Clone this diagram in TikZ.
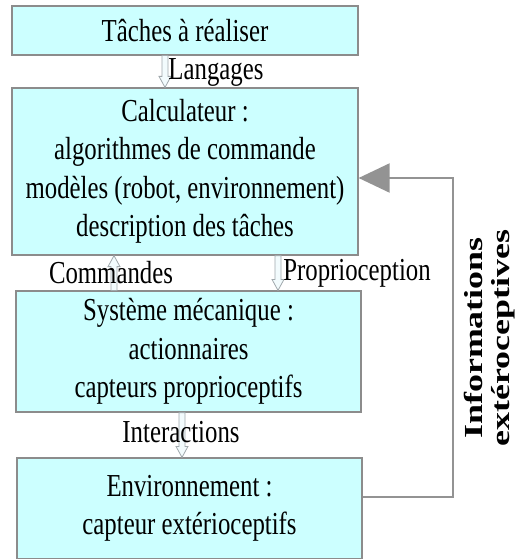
\documentclass[tikz,border=0pt]{standalone}
\usepackage{fontspec}
\setmainfont{Liberation Serif}[FakeStretch=0.775]
\newfontfamily\rotfont{Liberation Serif}[FakeStretch=1.38]
\usetikzlibrary{calc,arrows.meta}
\definecolor{boxfill}{HTML}{CCFFFF}
\definecolor{boxdraw}{HTML}{8C8C8C}
\definecolor{arrdraw}{HTML}{A0A8AC}
\definecolor{arrfill}{HTML}{F2FBFD}
\definecolor{fbgray}{HTML}{939393}
\newcommand\blkdown[2]{\path let \p1=(#1), \p2=(#2) in
  [draw=arrdraw, fill=arrfill, line width=0.8pt]
  (\x1-3pt,\y1) -- (\x1+3pt,\y1) -- (\x1+3pt,\y2+11pt) -- (\x1+6pt,\y2+11pt)
  -- (\x1,\y2) -- (\x1-6pt,\y2+11pt) -- (\x1-3pt,\y2+11pt) -- cycle;}
\newcommand\blkup[2]{\path let \p1=(#1), \p2=(#2) in
  [draw=arrdraw, fill=arrfill, line width=0.8pt]
  (\x1-3pt,\y1) -- (\x1+3pt,\y1) -- (\x1+3pt,\y2-11pt) -- (\x1+6pt,\y2-11pt)
  -- (\x1,\y2) -- (\x1-6pt,\y2-11pt) -- (\x1-3pt,\y2-11pt) -- cycle;}
\begin{document}
\begin{tikzpicture}[x=1pt,y=-1pt,
  box/.style={draw=boxdraw, fill=boxfill, line width=1.2pt, inner sep=0pt,
    align=center, font=\fontsize{32}{38.5}\selectfont},
  lbl/.style={inner sep=0pt, font=\fontsize{32}{38}\selectfont},
  fb/.style={draw=fbgray, line width=2pt}]
\useasboundingbox (0,0) rectangle (518,559);
\node[box, minimum width=346pt, minimum height=49pt] (t) at (185,30.5) {Tâches à réaliser};
\node[box, minimum width=346pt, minimum height=167pt] (c) at (185,171.5)
  {Calculateur :\\algorithmes de commande\\modèles (robot, environnement)\\description des tâches};
\node[box, minimum width=345pt, minimum height=121pt] (s) at (188.5,351.5)
  {Système mécanique :\\actionnaires\\capteurs proprioceptifs};
\node[box, minimum width=345pt, minimum height=101pt] (e) at (189.5,508.5)
  {Environnement :\\capteur extérioceptifs};
% block arrows
\blkdown{t.south -| 165,0}{c.north -| 165,0}
\blkup{s.north -| 114,0}{c.south -| 114,0}
\blkdown{c.south -| 278,0}{s.north -| 278,0}
\blkdown{s.south -| 182,0}{e.north -| 182,0}
\node[lbl] (l1) at (216,72) {Langages};
\node[lbl] (l2) at (111,273) {Commandes};
\node[lbl] (l3) at (357,273) {Proprioception};
\node[lbl] (l4) at (181,432) {Interactions};
% feedback
\coordinate (k1) at (453,497);
\coordinate (k2) at (453,178);
\draw[fb, -{Triangle[length=31pt,width=29pt]}] (e.east |- k1) -- (k1) -- (k2) -- (k2 -| c.east);
\node[rotate=90, align=center, inner sep=0pt,
  font=\rotfont\bfseries\fontsize{26}{27}\selectfont] (inf) at (490,338)
  {Informations\\extéroceptives};
\end{tikzpicture}
\end{document}
